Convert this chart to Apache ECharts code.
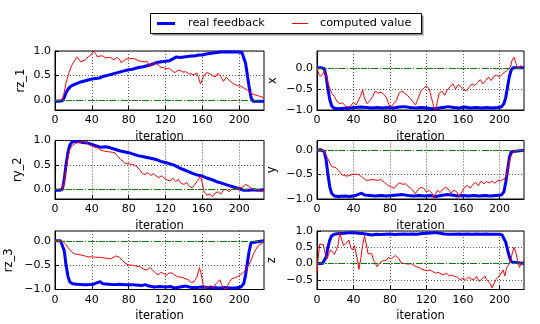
<!DOCTYPE html>
<html><head><meta charset="utf-8">
<script src="https://cdn.jsdelivr.net/npm/echarts@6/dist/echarts.min.js"></script>
<style>html,body{margin:0;padding:0;background:#fff}#c{width:540px;height:324px}</style>
</head><body><div id="c"></div>
<script>
const xTicks = [0, 40, 80, 120, 160, 200];
const panelNames = ['rz_1', 'x', 'ry_2', 'y', 'rz_3', 'z'];
const yRanges = [[-0.2, 1.0], [-1.0, 0.4], [-0.2, 1.0], [-1.0, 0.2], [-1.0, 0.2], [-0.8, 1.0]];
const rz1Ticks = [0.0, 0.5, 1.0];
const xPanelTicks = [-1.0, -0.5, 0.0];
const ry2Ticks = [0.0, 0.5, 1.0];
const yPanelTicks = [-1.0, -0.5, 0.0];
const rz3Ticks = [-1.0, -0.5, 0.0];
const zTicks = [-0.5, 0.0, 0.5, 1.0];
const yTicks = [rz1Ticks, xPanelTicks, ry2Ticks, yPanelTicks, rz3Ticks, zTicks];
const legendNames = ['real feedback', 'computed value'];

const rz1Real = [[0,-0.02],[4,-0.02],[8,-0.01],[10,0.05],[12,0.15],[14,0.22],[17,0.28],[20,0.31],[24,0.34],[28,0.37],[32,0.39],[36,0.41],[40,0.43],[44,0.44],[48,0.45],[52,0.48],[56,0.5],[60,0.52],[64,0.54],[68,0.56],[72,0.58],[76,0.6],[80,0.62],[84,0.63],[88,0.65],[92,0.67],[96,0.68],[100,0.7],[104,0.72],[108,0.75],[112,0.77],[116,0.78],[120,0.79],[124,0.8],[128,0.84],[132,0.88],[136,0.87],[140,0.88],[144,0.89],[148,0.9],[152,0.9],[156,0.92],[160,0.92],[164,0.94],[168,0.95],[172,0.96],[176,0.97],[180,0.98],[185,0.98],[190,0.98],[195,0.98],[200,0.98],[203,0.97],[205,0.93],[207,0.75],[209,0.5],[211,0.25],[213,0.05],[215,-0.02],[220,-0.02],[227,-0.02]];
const rz1Comp = [[0,0],[5,0],[8,0.02],[10,0.15],[12,0.35],[15,0.55],[18,0.7],[21,0.8],[24,0.88],[26,0.84],[28,0.78],[30,0.77],[33,0.82],[36,0.88],[39,0.92],[42,1.0],[44,0.95],[46,0.88],[49,0.9],[52,0.9],[55,0.86],[58,0.87],[61,0.86],[64,0.82],[67,0.87],[70,0.83],[72,0.76],[74,0.78],[77,0.84],[80,0.84],[84,0.85],[88,0.83],[91,0.8],[94,0.79],[97,0.78],[100,0.79],[103,0.68],[106,0.73],[109,0.76],[112,0.72],[115,0.67],[118,0.66],[121,0.64],[124,0.65],[127,0.6],[130,0.56],[133,0.6],[136,0.61],[139,0.57],[142,0.58],[145,0.54],[148,0.53],[151,0.52],[154,0.55],[156,0.45],[158,0.33],[160,0.42],[162,0.52],[165,0.56],[168,0.54],[171,0.5],[174,0.47],[177,0.55],[180,0.48],[183,0.38],[186,0.47],[189,0.41],[192,0.36],[195,0.32],[198,0.3],[201,0.29],[205,0.25],[209,0.2],[213,0.14],[217,0.11],[222,0.08],[227,0.05]];

const xReal = [[0,0],[5,0],[8,-0.02],[10,-0.2],[12,-0.5],[14,-0.75],[16,-0.9],[19,-0.96],[24,-0.97],[30,-0.96],[36,-0.95],[42,-0.94],[48,-0.93],[54,-0.94],[60,-0.95],[66,-0.94],[72,-0.95],[78,-0.94],[84,-0.95],[90,-0.93],[96,-0.92],[102,-0.94],[108,-0.95],[114,-0.94],[120,-0.95],[126,-0.97],[132,-0.96],[138,-0.94],[144,-0.92],[150,-0.94],[156,-0.95],[162,-0.93],[168,-0.95],[174,-0.94],[180,-0.95],[186,-0.94],[192,-0.95],[198,-0.94],[202,-0.93],[205,-0.85],[207,-0.7],[209,-0.45],[211,-0.2],[213,-0.05],[215,0],[227,0]];
const xComp = [[0,0],[2,-0.15],[4,-0.2],[6,-0.15],[8,-0.08],[10,-0.2],[13,-0.42],[16,-0.6],[19,-0.68],[22,-0.8],[25,-0.85],[28,-0.83],[31,-0.9],[34,-0.93],[37,-0.9],[40,-0.82],[43,-0.88],[46,-0.75],[48,-0.65],[50,-0.52],[52,-0.72],[55,-0.85],[58,-0.78],[61,-0.68],[64,-0.55],[67,-0.6],[70,-0.57],[73,-0.62],[76,-0.7],[79,-0.88],[81,-0.93],[84,-0.85],[87,-0.78],[90,-0.6],[93,-0.55],[96,-0.6],[99,-0.65],[102,-0.72],[105,-0.8],[108,-0.88],[111,-0.72],[114,-0.55],[117,-0.48],[120,-0.43],[123,-0.5],[126,-0.75],[128,-0.92],[130,-1.0],[132,-0.8],[134,-0.6],[137,-0.55],[140,-0.65],[143,-0.52],[146,-0.45],[149,-0.38],[152,-0.5],[155,-0.4],[158,-0.45],[161,-0.52],[164,-0.55],[167,-0.45],[170,-0.38],[173,-0.42],[176,-0.35],[179,-0.28],[182,-0.38],[185,-0.3],[188,-0.22],[191,-0.3],[194,-0.2],[197,-0.17],[200,-0.22],[203,-0.15],[206,-0.1],[209,-0.05],[212,0.02],[214,0.18],[216,0.25],[218,0.12],[220,-0.02],[223,0.05],[226,0.02]];

const ry2Real = [[0,-0.02],[5,-0.02],[8,0],[10,0.2],[12,0.5],[14,0.75],[16,0.9],[18,0.96],[21,0.98],[25,0.98],[30,0.96],[35,0.95],[40,0.92],[45,0.89],[50,0.86],[55,0.87],[60,0.85],[65,0.82],[70,0.79],[75,0.77],[80,0.75],[85,0.72],[90,0.69],[95,0.67],[100,0.65],[105,0.63],[110,0.61],[115,0.57],[120,0.55],[125,0.52],[130,0.49],[135,0.44],[140,0.4],[145,0.36],[150,0.32],[155,0.29],[160,0.27],[165,0.23],[170,0.2],[175,0.16],[180,0.13],[185,0.1],[190,0.07],[195,0.04],[200,0.01],[205,-0.02],[210,-0.02],[215,-0.01],[220,-0.02],[227,-0.01]];
const ry2Comp = [[0,0],[8,0],[10,0.15],[12,0.4],[14,0.65],[16,0.82],[19,0.9],[22,0.94],[26,0.96],[30,0.98],[34,0.96],[38,0.9],[42,0.87],[46,0.85],[50,0.8],[54,0.78],[58,0.77],[62,0.76],[65,0.75],[68,0.67],[71,0.62],[74,0.57],[77,0.52],[80,0.53],[83,0.51],[86,0.5],[89,0.46],[92,0.4],[95,0.32],[98,0.3],[101,0.34],[104,0.28],[107,0.32],[110,0.27],[113,0.24],[116,0.28],[119,0.22],[122,0.19],[125,0.17],[128,0.23],[131,0.16],[134,0.2],[137,0.12],[140,0.1],[143,0.14],[146,0.06],[149,0.03],[152,0.1],[155,0.18],[158,0.27],[160,0.12],[162,-0.05],[165,-0.12],[168,-0.1],[171,-0.15],[174,-0.08],[177,-0.05],[180,-0.1],[183,-0.02],[186,0.0],[189,-0.05],[192,0.0],[196,0.0],[200,0.02],[204,0.05],[207,0.1],[210,0.07],[213,0.02],[217,0.0],[221,-0.02],[224,-0.05],[227,-0.03]];

const yReal = [[0,0],[5,0],[8,-0.03],[10,-0.2],[12,-0.5],[14,-0.75],[16,-0.88],[19,-0.94],[24,-0.95],[30,-0.94],[36,-0.95],[42,-0.93],[46,-0.9],[49,-0.88],[52,-0.92],[58,-0.93],[64,-0.94],[70,-0.93],[76,-0.94],[82,-0.93],[88,-0.92],[94,-0.91],[100,-0.93],[106,-0.94],[112,-0.93],[118,-0.94],[124,-0.93],[130,-0.95],[136,-0.93],[142,-0.91],[148,-0.92],[154,-0.94],[160,-0.93],[166,-0.94],[172,-0.93],[178,-0.94],[184,-0.93],[190,-0.94],[196,-0.93],[202,-0.92],[205,-0.85],[207,-0.65],[209,-0.4],[211,-0.15],[213,-0.03],[215,0],[227,0]];
const yComp = [[0,0.0],[3,0.04],[6,0.02],[8,-0.03],[10,-0.1],[12,-0.18],[14,-0.26],[16,-0.33],[18,-0.37],[21,-0.36],[24,-0.42],[27,-0.5],[30,-0.52],[34,-0.53],[38,-0.5],[42,-0.49],[46,-0.5],[50,-0.56],[54,-0.62],[58,-0.61],[62,-0.6],[66,-0.62],[70,-0.6],[74,-0.66],[78,-0.72],[82,-0.76],[85,-0.78],[88,-0.7],[91,-0.67],[94,-0.7],[97,-0.69],[100,-0.74],[104,-0.8],[108,-0.89],[111,-0.8],[114,-0.76],[117,-0.78],[120,-0.86],[123,-0.82],[126,-0.88],[128,-0.98],[130,-0.9],[132,-0.82],[135,-0.87],[138,-0.8],[141,-0.76],[144,-0.8],[147,-0.88],[150,-0.82],[153,-0.85],[156,-0.95],[159,-0.85],[162,-0.76],[165,-0.72],[168,-0.78],[171,-0.7],[174,-0.66],[177,-0.73],[180,-0.63],[183,-0.69],[186,-0.64],[189,-0.67],[192,-0.63],[195,-0.68],[198,-0.62],[201,-0.63],[204,-0.6],[207,-0.56],[209,-0.4],[211,-0.22],[213,-0.1],[216,-0.03],[220,0],[227,0]];

const rz3Real = [[0,0],[6,0],[8,-0.03],[10,-0.2],[12,-0.5],[14,-0.72],[16,-0.84],[19,-0.88],[24,-0.89],[30,-0.9],[36,-0.9],[42,-0.89],[46,-0.86],[49,-0.84],[52,-0.88],[58,-0.89],[64,-0.9],[70,-0.89],[76,-0.9],[82,-0.9],[88,-0.91],[94,-0.92],[98,-0.9],[102,-0.93],[108,-0.95],[114,-0.94],[120,-0.95],[126,-0.94],[130,-0.97],[136,-0.95],[142,-0.93],[148,-0.96],[154,-0.96],[160,-0.95],[166,-0.96],[172,-0.96],[178,-0.97],[184,-0.96],[190,-0.97],[196,-0.97],[202,-0.95],[205,-0.88],[207,-0.7],[209,-0.45],[211,-0.2],[213,-0.04],[215,0],[227,0]];
const rz3Comp = [[0,0],[8,0],[10,-0.03],[12,-0.08],[14,-0.14],[17,-0.2],[20,-0.26],[24,-0.28],[28,-0.29],[32,-0.31],[36,-0.33],[40,-0.33],[44,-0.34],[48,-0.34],[52,-0.35],[56,-0.36],[60,-0.37],[63,-0.35],[66,-0.31],[68,-0.3],[70,-0.34],[73,-0.4],[76,-0.46],[80,-0.5],[84,-0.5],[88,-0.52],[92,-0.53],[96,-0.58],[100,-0.6],[103,-0.55],[106,-0.6],[109,-0.66],[112,-0.7],[115,-0.65],[118,-0.67],[121,-0.71],[124,-0.66],[127,-0.66],[130,-0.7],[133,-0.74],[136,-0.74],[139,-0.76],[142,-0.78],[145,-0.8],[148,-0.86],[151,-0.84],[154,-0.75],[157,-0.55],[159,-0.7],[161,-0.9],[163,-0.98],[166,-0.95],[169,-0.92],[172,-0.96],[175,-0.88],[177,-0.92],[179,-0.8],[181,-0.9],[183,-0.98],[186,-0.99],[189,-0.86],[192,-0.78],[195,-0.76],[198,-0.74],[201,-0.7],[204,-0.66],[207,-0.6],[210,-0.52],[213,-0.4],[216,-0.25],[219,-0.15],[222,-0.08],[225,-0.05],[227,-0.03]];

const zReal = [[0,0],[6,0],[8,0.03],[10,0.2],[12,0.5],[14,0.72],[16,0.85],[19,0.9],[24,0.92],[30,0.93],[36,0.95],[40,0.95],[45,0.93],[50,0.92],[55,0.9],[60,0.88],[65,0.9],[70,0.89],[75,0.9],[80,0.91],[85,0.89],[90,0.9],[95,0.91],[100,0.9],[105,0.91],[110,0.9],[115,0.92],[120,0.93],[125,0.94],[130,0.95],[135,0.93],[140,0.91],[145,0.9],[150,0.9],[155,0.91],[160,0.9],[165,0.91],[170,0.9],[175,0.91],[180,0.9],[185,0.91],[190,0.9],[195,0.9],[200,0.9],[203,0.88],[205,0.82],[207,0.65],[209,0.42],[211,0.2],[213,0.05],[215,0],[227,0]];
const zComp = [[0,-0.3],[1,0.1],[3,0.6],[5,0.65],[7,0.58],[9,0.3],[11,0.15],[13,0.3],[15,0.42],[17,0.35],[19,0.28],[21,0.4],[23,0.55],[25,0.95],[27,0.75],[29,0.55],[31,0.5],[33,0.65],[35,0.72],[37,0.5],[39,0.42],[41,0.55],[43,0.3],[45,0.0],[46,-0.18],[48,0.15],[50,0.55],[52,0.85],[54,0.6],[56,0.3],[58,0.25],[60,0.3],[62,0.1],[64,0.05],[66,-0.1],[68,0.0],[70,0.05],[72,0.08],[74,0.12],[76,0.1],[78,0.18],[80,0.2],[82,0.15],[84,0.2],[86,0.25],[88,0.28],[90,0.15],[92,0.02],[94,0.05],[96,0.0],[98,0.05],[100,-0.02],[103,0.0],[106,-0.05],[109,-0.1],[112,-0.12],[115,-0.18],[118,-0.2],[121,-0.22],[124,-0.2],[127,-0.25],[130,-0.3],[133,-0.27],[136,-0.32],[139,-0.35],[142,-0.3],[145,-0.38],[148,-0.35],[151,-0.4],[154,-0.42],[157,-0.5],[160,-0.45],[163,-0.5],[166,-0.42],[169,-0.48],[172,-0.5],[175,-0.4],[178,-0.55],[180,-0.6],[182,-0.45],[184,-0.38],[186,-0.5],[188,-0.55],[190,-0.62],[192,-0.75],[194,-0.72],[196,-0.5],[198,-0.45],[200,-0.38],[202,-0.3],[204,-0.2],[206,-0.38],[208,-0.12],[210,-0.05],[212,0.05],[214,0.3],[216,0.5],[218,0.35],[220,0.1],[222,-0.12],[224,0.0],[226,0.05],[227,0.08]];

const realSeries = [rz1Real, xReal, ry2Real, yReal, rz3Real, zReal];
const compSeries = [rz1Comp, xComp, ry2Comp, yComp, rz3Comp, zComp];

const FONT = 'DejaVu Sans';
const gridPos = [
  {left: 55, top: 51, width: 209, height: 59},
  {left: 317, top: 51, width: 207, height: 59},
  {left: 55, top: 140.5, width: 209, height: 58.5},
  {left: 317, top: 140.5, width: 207, height: 58.5},
  {left: 55, top: 231, width: 209, height: 58.5},
  {left: 317, top: 231, width: 207, height: 58.5}
];
const nameGaps = [27.5, 37.5, 31, 38.5, 39.5, 38.5];

function fmtY(v) {
  return (v < -1e-9 ? '\u2212' : '') + Math.abs(v).toFixed(1);
}
function fmtX(v) { return String(v); }

const grids = [], xAxes = [], yAxes = [], series = [];
for (let i = 0; i < 6; i++) {
  grids.push(Object.assign({show: true, borderColor: '#000', borderWidth: 1, backgroundColor: 'transparent'}, gridPos[i]));
  xAxes.push({
    type: 'value', gridIndex: i, min: 0, max: 227,
    name: 'iteration', nameLocation: 'middle', nameGap: 21,
    nameTextStyle: {fontFamily: FONT, fontSize: 11.5, color: '#000'},
    axisLine: {show: true, onZero: false, lineStyle: {color: '#000'}},
    axisTick: {show: true, inside: true, length: 4, lineStyle: {color: '#000'}, customValues: xTicks},
    axisLabel: {fontFamily: FONT, fontSize: 11, color: '#000', margin: 5, formatter: fmtX, customValues: xTicks},
    splitLine: {show: true, lineStyle: {color: '#555', type: [1, 2], width: 1}}
  });
  yAxes.push({
    type: 'value', gridIndex: i, min: yRanges[i][0], max: yRanges[i][1],
    name: panelNames[i], nameLocation: 'middle', nameGap: nameGaps[i],
    nameTextStyle: {fontFamily: FONT, fontSize: 11.5, color: '#000'},
    axisLine: {show: true, onZero: false, lineStyle: {color: '#000'}},
    axisTick: {show: true, inside: true, length: 4, lineStyle: {color: '#000'}, customValues: yTicks[i]},
    axisLabel: {fontFamily: FONT, fontSize: 11, color: '#000', margin: 4, formatter: fmtY, customValues: yTicks[i]},
    splitLine: {show: true, lineStyle: {color: '#555', type: [1, 2], width: 1}}
  });
  series.push({
    name: legendNames[0], type: 'line', xAxisIndex: i, yAxisIndex: i,
    data: realSeries[i], symbol: 'none', showSymbol: false, z: 2,
    lineStyle: {color: '#0000ff', width: 3}, itemStyle: {color: '#0000ff'}
  });
  series.push({
    name: legendNames[1], type: 'line', xAxisIndex: i, yAxisIndex: i,
    data: compSeries[i], symbol: 'none', showSymbol: false, z: 3,
    lineStyle: {color: '#ff0000', width: 1}, itemStyle: {color: '#ff0000'},
    markLine: {
      silent: true, symbol: 'none', animation: false,
      label: {show: false},
      lineStyle: {color: '#008000', type: [6, 2, 1, 2], width: 1},
      data: [{yAxis: 0}]
    }
  });
}

// legend drawn as graphic elements (box with shadow, line keys, text labels)
const LX = 150, LY = 13, LW = 271, LH = 20;
const graphic = [
  {type: 'rect', shape: {x: LX + 2.5, y: LY + 2.5, width: LW, height: LH}, style: {fill: 'rgba(0,0,0,0.45)'}, silent: true, z: 100},
  {type: 'rect', shape: {x: LX + 0.5, y: LY + 0.5, width: LW, height: LH}, style: {fill: '#fff', stroke: '#000', lineWidth: 1}, silent: true, z: 101},
  {type: 'line', shape: {x1: 157, y1: LY + 10.5, x2: 175, y2: LY + 10.5}, style: {stroke: '#0000ff', lineWidth: 3}, silent: true, z: 102},
  {type: 'text', x: 188, y: LY + 10.5, style: {text: legendNames[0], font: '11.3px "DejaVu Sans"', fill: '#000', verticalAlign: 'middle', align: 'left'}, silent: true, z: 102},
  {type: 'line', shape: {x1: 292, y1: LY + 10.5, x2: 308, y2: LY + 10.5}, style: {stroke: '#ff0000', lineWidth: 1}, silent: true, z: 102},
  {type: 'text', x: 320, y: LY + 10.5, style: {text: legendNames[1], font: '11.3px "DejaVu Sans"', fill: '#000', verticalAlign: 'middle', align: 'left'}, silent: true, z: 102}
];

const chart = echarts.init(document.getElementById('c'), null, {renderer: 'canvas'});
chart.setOption({
  animation: false,
  backgroundColor: '#fff',
  graphic: graphic,
  grid: grids, xAxis: xAxes, yAxis: yAxes, series: series
});
</script></body></html>
